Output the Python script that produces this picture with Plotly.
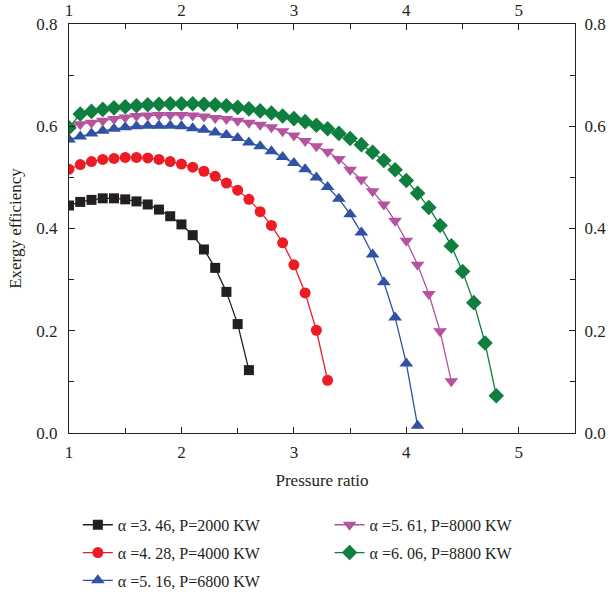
import plotly.graph_objects as go

# ---- data ----
pr_black = [round(1.0 + 0.1 * i, 1) for i in range(17)]   # 1.0 .. 2.6
eff_black = [0.445, 0.452, 0.456, 0.459, 0.459, 0.457, 0.453, 0.447, 0.437, 0.424,
             0.408, 0.387, 0.359, 0.323, 0.276, 0.213, 0.123]

pr_red = [round(1.0 + 0.1 * i, 1) for i in range(24)]     # 1.0 .. 3.3
eff_red = [0.516, 0.525, 0.531, 0.535, 0.537, 0.539, 0.539, 0.538, 0.535, 0.531,
           0.526, 0.520, 0.512, 0.502, 0.489, 0.475, 0.457, 0.433, 0.406, 0.372,
           0.329, 0.274, 0.201, 0.103]

pr_blue = [round(1.0 + 0.1 * i, 1) for i in range(32)]    # 1.0 .. 4.1
eff_blue = [0.574, 0.580, 0.586, 0.591, 0.595, 0.598, 0.600, 0.601, 0.601, 0.601,
            0.600, 0.596, 0.593, 0.588, 0.583, 0.577, 0.568, 0.561, 0.551, 0.540,
            0.528, 0.516, 0.500, 0.481, 0.458, 0.428, 0.392, 0.349, 0.295, 0.226,
            0.136, 0.014]

pr_mag = [round(1.0 + 0.1 * i, 1) for i in range(35)]     # 1.0 .. 4.4
eff_mag = [0.600, 0.604, 0.607, 0.611, 0.614, 0.617, 0.620, 0.621, 0.622, 0.622,
           0.622, 0.621, 0.619, 0.616, 0.614, 0.611, 0.607, 0.603, 0.598, 0.590,
           0.582, 0.571, 0.561, 0.550, 0.536, 0.515, 0.496, 0.473, 0.447, 0.415,
           0.376, 0.329, 0.272, 0.199, 0.101]

pr_green = [round(1.0 + 0.1 * i, 1) for i in range(39)]   # 1.0 .. 4.8
eff_green = [0.597, 0.624, 0.629, 0.633, 0.636, 0.638, 0.640, 0.642, 0.643, 0.644,
             0.644, 0.644, 0.643, 0.642, 0.640, 0.637, 0.634, 0.630, 0.626, 0.620,
             0.615, 0.609, 0.602, 0.595, 0.586, 0.576, 0.564, 0.549, 0.533, 0.515,
             0.494, 0.469, 0.441, 0.406, 0.366, 0.316, 0.255, 0.176, 0.073]

names = ["α =3. 46, P=2000 KW", "α =4. 28, P=4000 KW", "α =5. 16, P=6800 KW",
         "α =5. 61, P=8000 KW", "α =6. 06, P=8800 KW"]

FONT = "Liberation Serif, Times New Roman, DejaVu Serif, serif"
TXT = "#231f20"

series = [
    (pr_black, eff_black, names[0], "#231f20", "square", 10, "legend"),
    (pr_red, eff_red, names[1], "#ed1c24", "circle", 11, "legend"),
    (pr_blue, eff_blue, names[2], "#2f52a4", "triangle-up", 12, "legend"),
    (pr_mag, eff_mag, names[3], "#b4539e", "triangle-down", 12, "legend2"),
    (pr_green, eff_green, names[4], "#0e7f3e", "diamond", 12, "legend2"),
]

fig = go.Figure()
for i, (x, y, nm, col, sym, sz, lg) in enumerate(series):
    fig.add_trace(go.Scatter(
        x=x, y=y, name=nm, mode="lines+markers",
        line=dict(color=col, width=1.3),
        marker=dict(symbol=sym, size=sz, color=col),
        legend=lg, legendgroup=str(i),
    ))

# empty trace that registers the mirrored top/right axes
fig.add_trace(go.Scatter(x=[], y=[], xaxis="x2", yaxis="y2", showlegend=False,
                         hoverinfo="skip"))

axis_common = dict(
    showline=True, linecolor=TXT, linewidth=1.2,
    ticks="inside", ticklen=6, tickcolor=TXT, tickwidth=1.2,
    showgrid=False, zeroline=False,
    tickfont=dict(family=FONT, size=17, color=TXT),
)
minor_x = dict(dtick=0.5, ticks="inside", ticklen=5, tickcolor=TXT, tickwidth=1.2)
minor_y = dict(dtick=0.1, ticks="inside", ticklen=5, tickcolor=TXT, tickwidth=1.2)

fig.update_layout(
    width=611, height=593,
    margin=dict(l=69, r=36, t=24, b=160, autoexpand=False),
    paper_bgcolor="white", plot_bgcolor="white",
    font=dict(family=FONT, size=16, color=TXT),
    xaxis=dict(range=[1, 5.5], dtick=1, tick0=1, minor=minor_x, ticklabelstandoff=3,
               title=dict(text="Pressure ratio", font=dict(family=FONT, size=17, color=TXT), standoff=13),
               **axis_common),
    yaxis=dict(range=[0, 0.8], dtick=0.2, tickformat=".1f", minor=minor_y, ticklabelstandoff=7,
               title=dict(text="Exergy efficiency", font=dict(family=FONT, size=17, color=TXT), standoff=10),
               **axis_common),
    xaxis2=dict(range=[1, 5.5], dtick=1, tick0=1, overlaying="x", side="top", anchor="y2",
                minor=minor_x, ticklabelstandoff=0, **axis_common),
    yaxis2=dict(range=[0, 0.8], dtick=0.2, tickformat=".1f", overlaying="y", side="right", anchor="x2",
                minor=minor_y, ticklabelstandoff=5, **axis_common),
    legend=dict(x=0.0175, xanchor="left", y=-0.183, yanchor="top", orientation="v",
                font=dict(family=FONT, size=16, color=TXT), tracegroupgap=4,
                bgcolor="rgba(0,0,0,0)"),
    legend2=dict(x=0.515, xanchor="left", y=-0.183, yanchor="top", orientation="v",
                 font=dict(family=FONT, size=16, color=TXT), tracegroupgap=4,
                 bgcolor="rgba(0,0,0,0)"),
    showlegend=True,
)

fig.write_html("out.html")
